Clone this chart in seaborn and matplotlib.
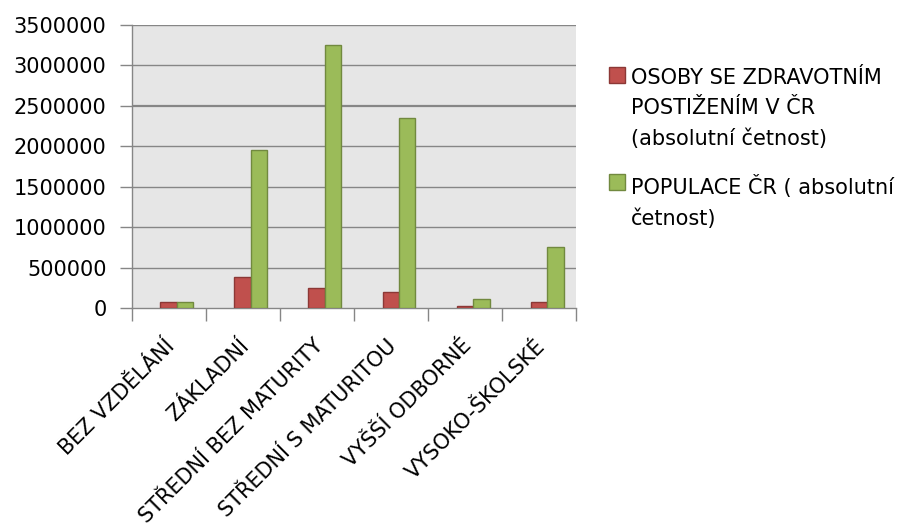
import matplotlib
matplotlib.use("Agg")
import matplotlib.pyplot as plt
import matplotlib.patches as mpatches
import matplotlib.transforms as mtransforms
import seaborn as sns
import pandas as pd

categories = ["BEZ VZDĚLÁNÍ", "ZÁKLADNÍ", "STŘEDNÍ BEZ MATURITY",
              "STŘEDNÍ S MATURITOU", "VYŠŠÍ ODBORNÉ", "VYSOKO-ŠKOLSKÉ"]
tick_labels = ["BEZ VZDĚLÁNÍ", "ZÁKLADNÍ", "STŘEDNÍ BEZ MATURITY",
               "STŘEDNÍ S MATURITOU", "VYŠŠÍ ODBORNÉ", "VYSOKO-ŠKOLSKÉ"]
series_disabled = "OSOBY SE ZDRAVOTNÍM\nPOSTIŽENÍM V ČR\n(absolutní četnost)"
series_population = "POPULACE ČR ( absolutní\nčetnost)"
disabled_values = [72000, 383000, 243000, 194000, 25000, 70000]
population_values = [69000, 1950000, 3249000, 2346000, 107000, 758000]
y_ticks = [0, 500000, 1000000, 1500000, 2000000, 2500000, 3000000, 3500000]

df = pd.DataFrame({
    "kategorie": categories * 2,
    "série": [series_disabled] * len(categories) + [series_population] * len(categories),
    "hodnota": disabled_values + population_values,
})

red, green = "#c0504d", "#9bbb59"
red_edge, green_edge = "#8c3836", "#71893f"
empty_slot = " "   # unused first series slot keeps the Excel-style bar placement

W, H = 901, 529
plt.rcParams["font.family"] = ["DejaVu Sans"]
fig = plt.figure(figsize=(W / 100, H / 100), dpi=100)
ax = fig.add_axes([131.5 / W, 1 - 308 / H, (576 - 131.5) / W, (308 - 25) / H])
ax.set_facecolor("#e6e6e6")

sns.barplot(data=df, x="kategorie", y="hodnota", hue="série",
            order=categories,
            hue_order=[empty_slot, series_disabled, series_population],
            palette={empty_slot: "#ffffff", series_disabled: red, series_population: green},
            saturation=1, width=0.667, gap=0, dodge=True, legend=False, ax=ax, zorder=3)

for bar in ax.patches:
    r = bar.get_facecolor()[0]
    bar.set_edgecolor(red_edge if r > 0.7 else green_edge)
    bar.set_linewidth(1.0)

ax.set_ylim(0, 3500000)
ax.set_xlim(-0.5, len(categories) - 0.5)
ax.set_yticks(y_ticks)
ax.set_yticklabels([str(v) for v in y_ticks], fontsize=15)
for v in y_ticks[1:]:
    ax.axhline(v, color="#868686", lw=1.6 if v == 2500000 else 1.0, zorder=1)

ax.set_xticks(range(len(categories)))
ax.set_xticklabels(tick_labels, rotation=45, ha="right", va="center",
                   rotation_mode="anchor", fontsize=15)
ax.tick_params(axis="x", which="major", length=0, pad=25)
shift = mtransforms.ScaledTranslation(3 / 100, 0, fig.dpi_scale_trans)
for lab in ax.get_xticklabels():
    lab.set_transform(lab.get_transform() + shift)
ax.set_xticks([i - 0.5 for i in range(len(categories) + 1)], minor=True)
ax.tick_params(axis="x", which="minor", length=9, color="#868686", width=1)
ax.tick_params(axis="y", length=9, color="#868686", width=1, pad=9)
ax.set_xlabel("")
ax.set_ylabel("")

for side in ["top", "right"]:
    ax.spines[side].set_visible(False)
for side in ["left", "bottom"]:
    ax.spines[side].set_color("#868686")
    ax.spines[side].set_linewidth(1.0)

# Legend: swatch aligned with the first line of each wrapped label
legend_entries = [(series_disabled, red, red_edge, 83),
                  (series_population, green, green_edge, 190)]
for label, face, edge, baseline in legend_entries:
    fig.add_artist(mpatches.Rectangle((609 / W, 1 - baseline / H), 16 / W, 16 / H,
                                      transform=fig.transFigure,
                                      facecolor=face, edgecolor=edge, linewidth=1.0))
    fig.text(631 / W, 1 - (baseline - 15) / H, label, fontsize=15,
             ha="left", va="top", linespacing=1.62)

fig.savefig("out.png", dpi=100, facecolor="white")
